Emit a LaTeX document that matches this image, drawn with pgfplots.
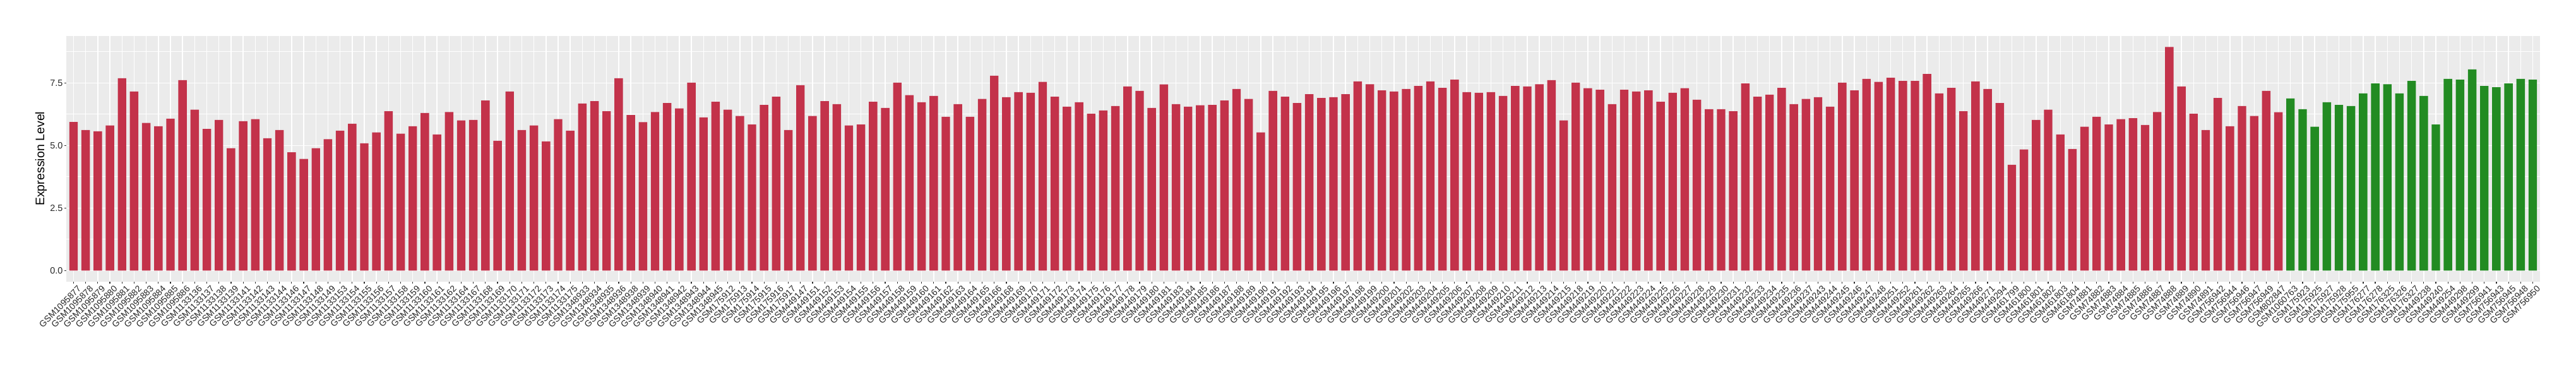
\documentclass[border=0pt]{standalone}
\usepackage{fontspec}
\setmainfont{Liberation Sans}
\usepackage{pgfplots}
\pgfplotsset{compat=1.18}
\definecolor{barred}{RGB}{195,50,74}
\definecolor{bargreen}{RGB}{34,139,34}
\definecolor{panelbg}{RGB}{235,235,235}
\definecolor{tickcol}{RGB}{51,51,51}
\begin{document}
\begin{tikzpicture}
\useasboundingbox (-52.5pt,-67pt) rectangle (1987.5pt,223pt);
\begin{axis}[
  at={(0,0)}, anchor=south west,
  scale only axis, width=1959pt, height=194.7pt,
  xmin=0.4, xmax=204.6, ymin=-0.447, ymax=9.387,
  axis background/.style={fill=panelbg},
  axis line style={draw=none},
  tick pos=left, tick align=outside,
  major tick length=1.6pt, minor tick length=0pt,
  every tick/.style={tickcol, line width=0.6pt},
  grid=both,
  major grid style={white, line width=0.7pt},
  minor grid style={white, line width=0.35pt},
  ytick={0,2.5,5,7.5}, yticklabels={0.0,2.5,5.0,7.5},
  minor ytick={1.25,3.75,6.25,8.75},
  yticklabel style={font=\fontsize{7.2}{8}\selectfont, text=black!85, inner sep=1pt},
  xtick={1,...,204},
  xticklabel style={rotate=45, anchor=north east, inner sep=0pt, yshift=-2.5pt, xshift=1.5pt, font=\fontsize{7}{8}\selectfont, text=black!85},
  every axis y label/.style={at={(axis description cs:-0.0102,0.5)}, rotate=90, anchor=center, font=\fontsize{9.8}{11}\selectfont},
  ylabel={Expression Level},
  ybar, bar width=0.7, bar shift=0pt,
  xticklabels={GSM1095877,GSM1095878,GSM1095879,GSM1095880,GSM1095881,GSM1095882,GSM1095883,GSM1095884,GSM1095885,GSM1095886,
GSM1133136,GSM1133137,GSM1133138,GSM1133139,GSM1133141,GSM1133142,GSM1133143,GSM1133144,GSM1133146,GSM1133147,
GSM1133148,GSM1133149,GSM1133153,GSM1133154,GSM1133155,GSM1133156,GSM1133157,GSM1133158,GSM1133159,GSM1133160,
GSM1133161,GSM1133162,GSM1133164,GSM1133167,GSM1133168,GSM1133169,GSM1133170,GSM1133171,GSM1133172,GSM1133173,
GSM1133174,GSM1133175,GSM1348933,GSM1348934,GSM1348935,GSM1348936,GSM1348938,GSM1348939,GSM1348940,GSM1348941,
GSM1348942,GSM1348943,GSM1348944,GSM1348945,GSM175912,GSM175913,GSM175914,GSM175915,GSM175916,GSM175917,
GSM449147,GSM449151,GSM449152,GSM449153,GSM449154,GSM449155,GSM449156,GSM449157,GSM449158,GSM449159,
GSM449160,GSM449161,GSM449162,GSM449163,GSM449164,GSM449165,GSM449166,GSM449168,GSM449169,GSM449170,
GSM449171,GSM449172,GSM449173,GSM449174,GSM449175,GSM449176,GSM449177,GSM449178,GSM449179,GSM449180,
GSM449181,GSM449183,GSM449184,GSM449185,GSM449186,GSM449187,GSM449188,GSM449189,GSM449190,GSM449191,
GSM449192,GSM449193,GSM449194,GSM449195,GSM449196,GSM449197,GSM449198,GSM449199,GSM449200,GSM449201,
GSM449202,GSM449203,GSM449204,GSM449205,GSM449206,GSM449207,GSM449208,GSM449209,GSM449210,GSM449211,
GSM449212,GSM449213,GSM449214,GSM449215,GSM449218,GSM449219,GSM449220,GSM449221,GSM449222,GSM449223,
GSM449224,GSM449225,GSM449226,GSM449227,GSM449228,GSM449229,GSM449230,GSM449231,GSM449232,GSM449233,
GSM449234,GSM449235,GSM449236,GSM449237,GSM449243,GSM449244,GSM449245,GSM449246,GSM449247,GSM449248,
GSM449251,GSM449252,GSM449261,GSM449262,GSM449263,GSM449264,GSM449265,GSM449266,GSM449271,GSM449294,
GSM461799,GSM461800,GSM461801,GSM461802,GSM461803,GSM461804,GSM74881,GSM74882,GSM74883,GSM74884,
GSM74885,GSM74886,GSM74887,GSM74888,GSM74889,GSM74890,GSM74891,GSM756942,GSM756944,GSM756946,
GSM756947,GSM756949,GSM802847,
GSM1060763,GSM175923,GSM175925,GSM175927,GSM175928,GSM175955,GSM176277,GSM176278,GSM176325,GSM176326,
GSM176327,GSM449238,GSM449240,GSM449254,GSM449298,GSM449299,GSM756941,GSM756943,GSM756945,GSM756948,
GSM756950},
]
\addplot[fill=barred, draw=none] coordinates {
(1,5.94)(2,5.62)(3,5.57)(4,5.80)(5,7.69)(6,7.16)(7,5.90)(8,5.77)(9,6.07)(10,7.61)
(11,6.43)(12,5.66)(13,6.02)(14,4.89)(15,5.97)(16,6.05)(17,5.29)(18,5.62)(19,4.73)(20,4.46)
(21,4.89)(22,5.25)(23,5.59)(24,5.87)(25,5.09)(26,5.52)(27,6.37)(28,5.47)(29,5.77)(30,6.30)
(31,5.44)(32,6.34)(33,6.00)(34,6.02)(35,6.80)(36,5.19)(37,7.16)(38,5.62)(39,5.80)(40,5.16)
(41,6.05)(42,5.59)(43,6.68)(44,6.77)(45,6.37)(46,7.69)(47,6.22)(48,5.93)(49,6.34)(50,6.70)
(51,6.48)(52,7.51)(53,6.12)(54,6.75)(55,6.43)(56,6.18)(57,5.84)(58,6.62)(59,6.95)(60,5.62)
(61,7.41)(62,6.18)(63,6.77)(64,6.65)(65,5.80)(66,5.84)(67,6.75)(68,6.50)(69,7.51)(70,7.01)
(71,6.73)(72,6.98)(73,6.15)(74,6.65)(75,6.15)(76,6.86)(77,7.79)(78,6.93)(79,7.13)(80,7.11)
(81,7.54)(82,6.95)(83,6.55)(84,6.73)(85,6.27)(86,6.40)(87,6.58)(88,7.36)(89,7.18)(90,6.50)
(91,7.44)(92,6.65)(93,6.55)(94,6.61)(95,6.62)(96,6.80)(97,7.26)(98,6.86)(99,5.52)(100,7.18)
(101,6.95)(102,6.70)(103,7.05)(104,6.90)(105,6.93)(106,7.05)(107,7.56)(108,7.45)(109,7.20)(110,7.16)
(111,7.26)(112,7.38)(113,7.56)(114,7.30)(115,7.63)(116,7.13)(117,7.11)(118,7.13)(119,6.98)(120,7.38)
(121,7.36)(122,7.45)(123,7.61)(124,6.00)(125,7.51)(126,7.29)(127,7.23)(128,6.65)(129,7.23)(130,7.16)
(131,7.20)(132,6.75)(133,7.11)(134,7.29)(135,6.83)(136,6.45)(137,6.45)(138,6.37)(139,7.48)(140,6.95)
(141,7.03)(142,7.30)(143,6.65)(144,6.86)(145,6.93)(146,6.55)(147,7.51)(148,7.20)(149,7.66)(150,7.54)
(151,7.71)(152,7.58)(153,7.58)(154,7.86)(155,7.08)(156,7.30)(157,6.37)(158,7.56)(159,7.26)(160,6.70)
(161,4.23)(162,4.84)(163,6.02)(164,6.43)(165,5.44)(166,4.86)(167,5.75)(168,6.15)(169,5.84)(170,6.05)
(171,6.09)(172,5.82)(173,6.34)(174,8.94)(175,7.36)(176,6.27)(177,5.62)(178,6.90)(179,5.77)(180,6.58)
(181,6.18)(182,7.18)(183,6.33)
};
\addplot[fill=bargreen, draw=none] coordinates {
(184,6.88)(185,6.45)(186,5.75)(187,6.73)(188,6.62)(189,6.58)(190,7.08)(191,7.48)(192,7.45)(193,7.08)
(194,7.58)(195,6.98)(196,5.84)(197,7.66)(198,7.63)(199,8.04)(200,7.38)(201,7.33)(202,7.48)(203,7.66)
(204,7.63)
};
\end{axis}
\end{tikzpicture}
\end{document}
